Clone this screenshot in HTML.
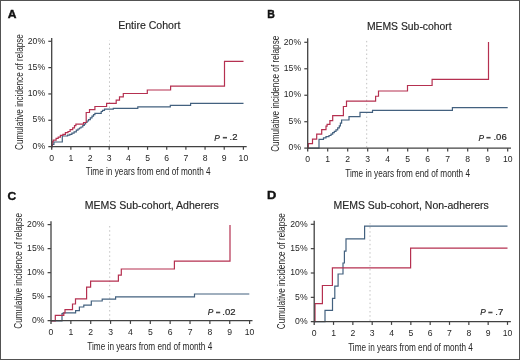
<!DOCTYPE html>
<html><head><meta charset="utf-8"><style>
html,body{margin:0;padding:0;background:#fff;}
svg{display:block;will-change:transform;}
text{font-family:"Liberation Sans", sans-serif;fill:#262626;}
.tk{font-size:9.6px;}
.pv{font-size:9.5px;stroke:#262626;stroke-width:0.2px;}
.lab{font-size:11.5px;font-weight:bold;fill:#111;stroke:#111;stroke-width:0.4px;}
.ttl{font-size:10px;stroke:#262626;stroke-width:0.15px;}
.ax{font-size:10px;}
</style></head><body>
<svg width="520" height="360" viewBox="0 0 520 360">
<rect x="0" y="0" width="520" height="360" fill="#fff"/>
<g>
<rect x="0.5" y="0.5" width="519" height="359" fill="none" stroke="#525252" stroke-width="1"/>
<line x1="109.5" y1="145.8" x2="109.5" y2="40.5" stroke="#c2c2c2" stroke-width="1" stroke-dasharray="1.5 2.7"/>
<path d="M 51.7 146.6 H 52.4 V 144.3 H 53.9 V 142 H 62.3 V 136 H 67.6 V 135.2 H 69.8 V 134.4 H 71.9 V 133.2 H 74.1 V 131.8 H 76.3 V 130.2 H 78 V 129 H 79.5 V 128 H 81 V 127 H 82.8 V 125.4 H 84.3 V 124 H 85.6 V 122.5 H 87 V 121 H 88.5 V 119.6 H 90.3 V 117.8 H 92 V 116.1 H 93.5 V 114.7 H 94.9 V 113.3 H 101.2 V 111.5 H 102.5 V 110.4 H 104.5 V 109.2 H 113.3 V 108.3 H 137.8 V 106.8 H 170.3 V 105.3 H 190.6 V 103.4 H 243.5" fill="none" stroke="#43617f" stroke-width="1.2"/>
<path d="M 51.7 146.6 H 52.1 V 141.9 H 53.2 V 140.1 H 56.1 V 138.3 H 58.2 V 137.2 H 60.4 V 135.4 H 62.9 V 134.4 H 65.4 V 132.6 H 68 V 131.5 H 70.1 V 129.7 H 72.7 V 127.9 H 74.5 V 125.7 H 75.9 V 124.1 H 83.5 V 122.5 H 86.2 V 112.5 H 89.5 V 109.6 H 94.9 V 106.5 H 106.6 V 103.3 H 116.2 V 100.2 H 119.5 V 96.8 H 123.3 V 93.5 H 147.3 V 90 H 170.6 V 86.2 H 224.5 V 61.3 H 243.5" fill="none" stroke="#b53050" stroke-width="1.2"/>
<line x1="51.7" y1="38" x2="51.7" y2="149.8" stroke="#424242" stroke-width="1.3"/>
<line x1="48.3" y1="146.6" x2="246.7" y2="146.6" stroke="#424242" stroke-width="1.3"/>
<text transform="translate(45.1 148.8) scale(0.9 1)" text-anchor="end" class="tk">0%</text>
<line x1="48.3" y1="120.27" x2="51.7" y2="120.27" stroke="#424242" stroke-width="1.2"/>
<text transform="translate(45.1 122.47) scale(0.9 1)" text-anchor="end" class="tk">5%</text>
<line x1="48.3" y1="93.95" x2="51.7" y2="93.95" stroke="#424242" stroke-width="1.2"/>
<text transform="translate(45.1 96.15) scale(0.9 1)" text-anchor="end" class="tk">10%</text>
<line x1="48.3" y1="67.62" x2="51.7" y2="67.62" stroke="#424242" stroke-width="1.2"/>
<text transform="translate(45.1 69.83) scale(0.9 1)" text-anchor="end" class="tk">15%</text>
<line x1="48.3" y1="41.3" x2="51.7" y2="41.3" stroke="#424242" stroke-width="1.2"/>
<text transform="translate(45.1 43.5) scale(0.9 1)" text-anchor="end" class="tk">20%</text>
<text transform="translate(51.7 160.7) scale(0.9 1)" text-anchor="middle" class="tk">0</text>
<line x1="70.87" y1="146.6" x2="70.87" y2="149.8" stroke="#424242" stroke-width="1.2"/>
<text transform="translate(70.87 160.7) scale(0.9 1)" text-anchor="middle" class="tk">1</text>
<line x1="90.04" y1="146.6" x2="90.04" y2="149.8" stroke="#424242" stroke-width="1.2"/>
<text transform="translate(90.04 160.7) scale(0.9 1)" text-anchor="middle" class="tk">2</text>
<line x1="109.21" y1="146.6" x2="109.21" y2="149.8" stroke="#424242" stroke-width="1.2"/>
<text transform="translate(109.21 160.7) scale(0.9 1)" text-anchor="middle" class="tk">3</text>
<line x1="128.38" y1="146.6" x2="128.38" y2="149.8" stroke="#424242" stroke-width="1.2"/>
<text transform="translate(128.38 160.7) scale(0.9 1)" text-anchor="middle" class="tk">4</text>
<line x1="147.55" y1="146.6" x2="147.55" y2="149.8" stroke="#424242" stroke-width="1.2"/>
<text transform="translate(147.55 160.7) scale(0.9 1)" text-anchor="middle" class="tk">5</text>
<line x1="166.72" y1="146.6" x2="166.72" y2="149.8" stroke="#424242" stroke-width="1.2"/>
<text transform="translate(166.72 160.7) scale(0.9 1)" text-anchor="middle" class="tk">6</text>
<line x1="185.89" y1="146.6" x2="185.89" y2="149.8" stroke="#424242" stroke-width="1.2"/>
<text transform="translate(185.89 160.7) scale(0.9 1)" text-anchor="middle" class="tk">7</text>
<line x1="205.06" y1="146.6" x2="205.06" y2="149.8" stroke="#424242" stroke-width="1.2"/>
<text transform="translate(205.06 160.7) scale(0.9 1)" text-anchor="middle" class="tk">8</text>
<line x1="224.23" y1="146.6" x2="224.23" y2="149.8" stroke="#424242" stroke-width="1.2"/>
<text transform="translate(224.23 160.7) scale(0.9 1)" text-anchor="middle" class="tk">9</text>
<line x1="243.4" y1="146.6" x2="243.4" y2="149.8" stroke="#424242" stroke-width="1.2"/>
<text transform="translate(243.4 160.7) scale(0.9 1)" text-anchor="middle" class="tk">10</text>
<text transform="translate(7.7 17.6) scale(1.05 1)" class="lab">A</text>
<text x="149.3" y="29" text-anchor="middle" class="ttl" textLength="62.2" lengthAdjust="spacingAndGlyphs">Entire Cohort</text>
<text x="148.2" y="174.8" text-anchor="middle" class="ax" textLength="124.8" lengthAdjust="spacingAndGlyphs">Time in years from end of month 4</text>
<text transform="translate(22.5 92.05) rotate(-90)" x="0" y="0" text-anchor="middle" class="ax" textLength="115.9" lengthAdjust="spacingAndGlyphs">Cumulative incidence of relapse</text>
<text transform="translate(214.3 140.5) scale(0.86 1)" class="pv" font-style="italic" style="font-size:9.7px">P</text>
<rect x="222.8" y="136.9" width="4.2" height="1.6" fill="#4a4a4a"/>
<text x="237.5" y="140.4" class="pv" text-anchor="end">.2</text>
<line x1="366.7" y1="147.4" x2="366.7" y2="40.8" stroke="#c2c2c2" stroke-width="1" stroke-dasharray="1.5 2.7"/>
<path d="M 307.7 148.2 H 319 V 139.3 H 323.5 V 137.8 H 326 V 136.6 H 329 V 135.5 H 331 V 134.2 H 332.7 V 132.7 H 334.3 V 131.4 H 336 V 129.8 H 337.7 V 127.8 H 339.3 V 125.8 H 340.4 V 123.2 H 341.6 V 120 H 349 V 116.6 H 360 V 112.4 H 372.5 V 110.4 H 452.4 V 107.6 H 507.7" fill="none" stroke="#43617f" stroke-width="1.2"/>
<path d="M 307.7 148.2 H 308.3 V 143.7 H 312.5 V 139.2 H 316.7 V 134.2 H 321.7 V 129.7 H 326 V 126.1 H 327.1 V 124.4 H 329.9 V 120.6 H 332.7 V 115.7 H 343.4 V 106.5 H 346.5 V 101.2 H 375.6 V 96.25 H 378.5 V 91 H 407.5 V 85.5 H 432.1 V 79.4 H 488.5 V 41.9" fill="none" stroke="#b53050" stroke-width="1.2"/>
<line x1="307.7" y1="38.3" x2="307.7" y2="151.4" stroke="#424242" stroke-width="1.3"/>
<line x1="304.3" y1="148.2" x2="511" y2="148.2" stroke="#424242" stroke-width="1.3"/>
<text transform="translate(301.1 150.4) scale(0.9 1)" text-anchor="end" class="tk">0%</text>
<line x1="304.3" y1="121.72" x2="307.7" y2="121.72" stroke="#424242" stroke-width="1.2"/>
<text transform="translate(301.1 123.92) scale(0.9 1)" text-anchor="end" class="tk">5%</text>
<line x1="304.3" y1="95.25" x2="307.7" y2="95.25" stroke="#424242" stroke-width="1.2"/>
<text transform="translate(301.1 97.45) scale(0.9 1)" text-anchor="end" class="tk">10%</text>
<line x1="304.3" y1="68.77" x2="307.7" y2="68.77" stroke="#424242" stroke-width="1.2"/>
<text transform="translate(301.1 70.97) scale(0.9 1)" text-anchor="end" class="tk">15%</text>
<line x1="304.3" y1="42.3" x2="307.7" y2="42.3" stroke="#424242" stroke-width="1.2"/>
<text transform="translate(301.1 44.5) scale(0.9 1)" text-anchor="end" class="tk">20%</text>
<text transform="translate(307.7 162.3) scale(0.9 1)" text-anchor="middle" class="tk">0</text>
<line x1="327.7" y1="148.2" x2="327.7" y2="151.4" stroke="#424242" stroke-width="1.2"/>
<text transform="translate(327.7 162.3) scale(0.9 1)" text-anchor="middle" class="tk">1</text>
<line x1="347.7" y1="148.2" x2="347.7" y2="151.4" stroke="#424242" stroke-width="1.2"/>
<text transform="translate(347.7 162.3) scale(0.9 1)" text-anchor="middle" class="tk">2</text>
<line x1="367.7" y1="148.2" x2="367.7" y2="151.4" stroke="#424242" stroke-width="1.2"/>
<text transform="translate(367.7 162.3) scale(0.9 1)" text-anchor="middle" class="tk">3</text>
<line x1="387.7" y1="148.2" x2="387.7" y2="151.4" stroke="#424242" stroke-width="1.2"/>
<text transform="translate(387.7 162.3) scale(0.9 1)" text-anchor="middle" class="tk">4</text>
<line x1="407.7" y1="148.2" x2="407.7" y2="151.4" stroke="#424242" stroke-width="1.2"/>
<text transform="translate(407.7 162.3) scale(0.9 1)" text-anchor="middle" class="tk">5</text>
<line x1="427.7" y1="148.2" x2="427.7" y2="151.4" stroke="#424242" stroke-width="1.2"/>
<text transform="translate(427.7 162.3) scale(0.9 1)" text-anchor="middle" class="tk">6</text>
<line x1="447.7" y1="148.2" x2="447.7" y2="151.4" stroke="#424242" stroke-width="1.2"/>
<text transform="translate(447.7 162.3) scale(0.9 1)" text-anchor="middle" class="tk">7</text>
<line x1="467.7" y1="148.2" x2="467.7" y2="151.4" stroke="#424242" stroke-width="1.2"/>
<text transform="translate(467.7 162.3) scale(0.9 1)" text-anchor="middle" class="tk">8</text>
<line x1="487.7" y1="148.2" x2="487.7" y2="151.4" stroke="#424242" stroke-width="1.2"/>
<text transform="translate(487.7 162.3) scale(0.9 1)" text-anchor="middle" class="tk">9</text>
<line x1="507.7" y1="148.2" x2="507.7" y2="151.4" stroke="#424242" stroke-width="1.2"/>
<text transform="translate(507.7 162.3) scale(0.9 1)" text-anchor="middle" class="tk">10</text>
<text transform="translate(267.2 17.5) scale(0.92 1)" class="lab">B</text>
<text x="409.3" y="30.2" text-anchor="middle" class="ttl" textLength="84.8" lengthAdjust="spacingAndGlyphs">MEMS Sub-cohort</text>
<text x="407.6" y="176.6" text-anchor="middle" class="ax" textLength="124.8" lengthAdjust="spacingAndGlyphs">Time in years from end of month 4</text>
<text transform="translate(278.6 93.75) rotate(-90)" x="0" y="0" text-anchor="middle" class="ax" textLength="116.1" lengthAdjust="spacingAndGlyphs">Cumulative incidence of relapse</text>
<text transform="translate(478.5 140.5) scale(0.86 1)" class="pv" font-style="italic" style="font-size:9.7px">P</text>
<rect x="486.4" y="136.9" width="4.2" height="1.6" fill="#4a4a4a"/>
<text x="506.7" y="140.4" class="pv" text-anchor="end">.06</text>
<line x1="109.7" y1="319.9" x2="109.7" y2="223.7" stroke="#c2c2c2" stroke-width="1" stroke-dasharray="1.5 2.7"/>
<path d="M 51 320.8 H 62 V 313.6 H 63.2 V 312.8 H 75.6 V 310.6 H 79.4 V 307 H 83.8 V 305.1 H 91.3 V 301 H 102.2 V 299.1 H 115.6 V 296.8 H 194.5 V 294 H 249.3" fill="none" stroke="#43617f" stroke-width="1.2"/>
<path d="M 51 320.8 H 55.3 V 315.4 H 63.8 V 313 H 65 V 309.7 H 72.5 V 304 H 75.5 V 298.9 H 86.6 V 287.2 H 90.6 V 281.2 H 118.4 V 275.2 H 121.3 V 269 H 174.4 V 261.2 H 230 V 225" fill="none" stroke="#b53050" stroke-width="1.2"/>
<line x1="51" y1="221.2" x2="51" y2="323.9" stroke="#424242" stroke-width="1.3"/>
<line x1="47.6" y1="320.7" x2="252.5" y2="320.7" stroke="#424242" stroke-width="1.3"/>
<text transform="translate(44.4 322.9) scale(0.9 1)" text-anchor="end" class="tk">0%</text>
<line x1="47.6" y1="296.68" x2="51" y2="296.68" stroke="#424242" stroke-width="1.2"/>
<text transform="translate(44.4 298.88) scale(0.9 1)" text-anchor="end" class="tk">5%</text>
<line x1="47.6" y1="272.65" x2="51" y2="272.65" stroke="#424242" stroke-width="1.2"/>
<text transform="translate(44.4 274.85) scale(0.9 1)" text-anchor="end" class="tk">10%</text>
<line x1="47.6" y1="248.62" x2="51" y2="248.62" stroke="#424242" stroke-width="1.2"/>
<text transform="translate(44.4 250.82) scale(0.9 1)" text-anchor="end" class="tk">15%</text>
<line x1="47.6" y1="224.6" x2="51" y2="224.6" stroke="#424242" stroke-width="1.2"/>
<text transform="translate(44.4 226.8) scale(0.9 1)" text-anchor="end" class="tk">20%</text>
<text transform="translate(51 334.8) scale(0.9 1)" text-anchor="middle" class="tk">0</text>
<line x1="70.86" y1="320.7" x2="70.86" y2="323.9" stroke="#424242" stroke-width="1.2"/>
<text transform="translate(70.86 334.8) scale(0.9 1)" text-anchor="middle" class="tk">1</text>
<line x1="90.72" y1="320.7" x2="90.72" y2="323.9" stroke="#424242" stroke-width="1.2"/>
<text transform="translate(90.72 334.8) scale(0.9 1)" text-anchor="middle" class="tk">2</text>
<line x1="110.58" y1="320.7" x2="110.58" y2="323.9" stroke="#424242" stroke-width="1.2"/>
<text transform="translate(110.58 334.8) scale(0.9 1)" text-anchor="middle" class="tk">3</text>
<line x1="130.44" y1="320.7" x2="130.44" y2="323.9" stroke="#424242" stroke-width="1.2"/>
<text transform="translate(130.44 334.8) scale(0.9 1)" text-anchor="middle" class="tk">4</text>
<line x1="150.3" y1="320.7" x2="150.3" y2="323.9" stroke="#424242" stroke-width="1.2"/>
<text transform="translate(150.3 334.8) scale(0.9 1)" text-anchor="middle" class="tk">5</text>
<line x1="170.16" y1="320.7" x2="170.16" y2="323.9" stroke="#424242" stroke-width="1.2"/>
<text transform="translate(170.16 334.8) scale(0.9 1)" text-anchor="middle" class="tk">6</text>
<line x1="190.02" y1="320.7" x2="190.02" y2="323.9" stroke="#424242" stroke-width="1.2"/>
<text transform="translate(190.02 334.8) scale(0.9 1)" text-anchor="middle" class="tk">7</text>
<line x1="209.88" y1="320.7" x2="209.88" y2="323.9" stroke="#424242" stroke-width="1.2"/>
<text transform="translate(209.88 334.8) scale(0.9 1)" text-anchor="middle" class="tk">8</text>
<line x1="229.74" y1="320.7" x2="229.74" y2="323.9" stroke="#424242" stroke-width="1.2"/>
<text transform="translate(229.74 334.8) scale(0.9 1)" text-anchor="middle" class="tk">9</text>
<line x1="249.6" y1="320.7" x2="249.6" y2="323.9" stroke="#424242" stroke-width="1.2"/>
<text transform="translate(249.6 334.8) scale(0.9 1)" text-anchor="middle" class="tk">10</text>
<text transform="translate(7.5 199.5) scale(1.05 1)" class="lab">C</text>
<text x="151.8" y="209.2" text-anchor="middle" class="ttl" textLength="134" lengthAdjust="spacingAndGlyphs">MEMS Sub-cohort, Adherers</text>
<text x="149.8" y="349.5" text-anchor="middle" class="ax" textLength="125" lengthAdjust="spacingAndGlyphs">Time in years from end of month 4</text>
<text transform="translate(22 270.9) rotate(-90)" x="0" y="0" text-anchor="middle" class="ax" textLength="115.65" lengthAdjust="spacingAndGlyphs">Cumulative incidence of relapse</text>
<text transform="translate(207.8 315.3) scale(0.86 1)" class="pv" font-style="italic" style="font-size:9.7px">P</text>
<rect x="216" y="311.7" width="4.2" height="1.6" fill="#4a4a4a"/>
<text x="235.5" y="315.2" class="pv" text-anchor="end">.02</text>
<line x1="370" y1="320.9" x2="370" y2="223.3" stroke="#c2c2c2" stroke-width="1" stroke-dasharray="1.5 2.7"/>
<path d="M 314.2 321.7 H 325 V 310.3 H 332.5 V 298.4 H 334.8 V 286.2 H 338.1 V 274 H 343 V 263 H 344.4 V 251.2 H 346 V 238.8 H 364.6 V 226.2 H 507.5" fill="none" stroke="#43617f" stroke-width="1.2"/>
<path d="M 314.2 321.7 H 315 V 303.7 H 322.4 V 285.5 H 332.4 V 267.8 H 410.6 V 248.1 H 507.5" fill="none" stroke="#b53050" stroke-width="1.2"/>
<line x1="314.2" y1="220.8" x2="314.2" y2="324.9" stroke="#424242" stroke-width="1.3"/>
<line x1="310.8" y1="321.7" x2="510.9" y2="321.7" stroke="#424242" stroke-width="1.3"/>
<text transform="translate(307.6 323.9) scale(0.9 1)" text-anchor="end" class="tk">0%</text>
<line x1="310.8" y1="297.35" x2="314.2" y2="297.35" stroke="#424242" stroke-width="1.2"/>
<text transform="translate(307.6 299.55) scale(0.9 1)" text-anchor="end" class="tk">5%</text>
<line x1="310.8" y1="273" x2="314.2" y2="273" stroke="#424242" stroke-width="1.2"/>
<text transform="translate(307.6 275.2) scale(0.9 1)" text-anchor="end" class="tk">10%</text>
<line x1="310.8" y1="248.65" x2="314.2" y2="248.65" stroke="#424242" stroke-width="1.2"/>
<text transform="translate(307.6 250.85) scale(0.9 1)" text-anchor="end" class="tk">15%</text>
<line x1="310.8" y1="224.3" x2="314.2" y2="224.3" stroke="#424242" stroke-width="1.2"/>
<text transform="translate(307.6 226.5) scale(0.9 1)" text-anchor="end" class="tk">20%</text>
<text transform="translate(314.2 335.8) scale(0.9 1)" text-anchor="middle" class="tk">0</text>
<line x1="333.53" y1="321.7" x2="333.53" y2="324.9" stroke="#424242" stroke-width="1.2"/>
<text transform="translate(333.53 335.8) scale(0.9 1)" text-anchor="middle" class="tk">1</text>
<line x1="352.86" y1="321.7" x2="352.86" y2="324.9" stroke="#424242" stroke-width="1.2"/>
<text transform="translate(352.86 335.8) scale(0.9 1)" text-anchor="middle" class="tk">2</text>
<line x1="372.19" y1="321.7" x2="372.19" y2="324.9" stroke="#424242" stroke-width="1.2"/>
<text transform="translate(372.19 335.8) scale(0.9 1)" text-anchor="middle" class="tk">3</text>
<line x1="391.52" y1="321.7" x2="391.52" y2="324.9" stroke="#424242" stroke-width="1.2"/>
<text transform="translate(391.52 335.8) scale(0.9 1)" text-anchor="middle" class="tk">4</text>
<line x1="410.85" y1="321.7" x2="410.85" y2="324.9" stroke="#424242" stroke-width="1.2"/>
<text transform="translate(410.85 335.8) scale(0.9 1)" text-anchor="middle" class="tk">5</text>
<line x1="430.18" y1="321.7" x2="430.18" y2="324.9" stroke="#424242" stroke-width="1.2"/>
<text transform="translate(430.18 335.8) scale(0.9 1)" text-anchor="middle" class="tk">6</text>
<line x1="449.51" y1="321.7" x2="449.51" y2="324.9" stroke="#424242" stroke-width="1.2"/>
<text transform="translate(449.51 335.8) scale(0.9 1)" text-anchor="middle" class="tk">7</text>
<line x1="468.84" y1="321.7" x2="468.84" y2="324.9" stroke="#424242" stroke-width="1.2"/>
<text transform="translate(468.84 335.8) scale(0.9 1)" text-anchor="middle" class="tk">8</text>
<line x1="488.17" y1="321.7" x2="488.17" y2="324.9" stroke="#424242" stroke-width="1.2"/>
<text transform="translate(488.17 335.8) scale(0.9 1)" text-anchor="middle" class="tk">9</text>
<line x1="507.5" y1="321.7" x2="507.5" y2="324.9" stroke="#424242" stroke-width="1.2"/>
<text transform="translate(507.5 335.8) scale(0.9 1)" text-anchor="middle" class="tk">10</text>
<text transform="translate(266.9 199) scale(1.12 1)" class="lab">D</text>
<text x="411.2" y="208.7" text-anchor="middle" class="ttl" textLength="155.2" lengthAdjust="spacingAndGlyphs">MEMS Sub-cohort, Non-adherers</text>
<text x="410.5" y="350.7" text-anchor="middle" class="ax" textLength="124.7" lengthAdjust="spacingAndGlyphs">Time in years from end of month 4</text>
<text transform="translate(284.8 271.2) rotate(-90)" x="0" y="0" text-anchor="middle" class="ax" textLength="116.2" lengthAdjust="spacingAndGlyphs">Cumulative incidence of relapse</text>
<text transform="translate(480.3 315.3) scale(0.86 1)" class="pv" font-style="italic" style="font-size:9.7px">P</text>
<rect x="488.3" y="311.7" width="4.2" height="1.6" fill="#4a4a4a"/>
<text x="503.2" y="315.2" class="pv" text-anchor="end">.7</text>
</g>
</svg>
</body></html>
